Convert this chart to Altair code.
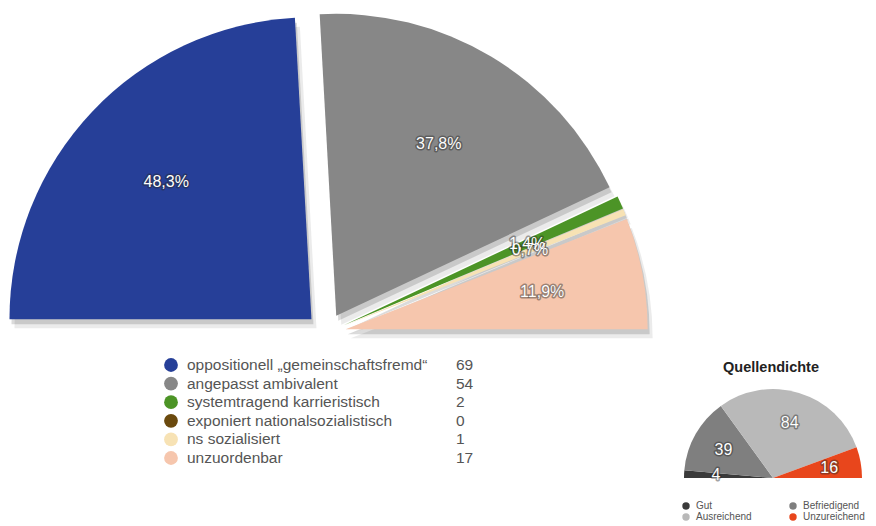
import math
import altair as alt
import pandas as pd

# ---- data ----
categories = ["oppositionell „gemeinschaftsfremd“", "angepasst ambivalent",
              "systemtragend karrieristisch", "exponiert nationalsozialistisch",
              "ns sozialisiert", "unzuordenbar"]
counts = [69, 54, 2, 0, 1, 17]
colors = ["#263f98", "#878787", "#4c9426", "#6b4a0e", "#f7e2b4", "#f6c6ad"]

q_title = ["Quellendichte"]
q_categories = ["Gut", "Befriedigend", "Ausreichend", "Unzureichend"]
q_counts = [4, 39, 84, 16]
q_colors = ["#3a3a3a", "#7f7f7f", "#b9b9b9", "#e8461c"]

main = pd.DataFrame({"cat": categories, "n": counts, "idx": list(range(len(categories)))})
qd = pd.DataFrame({"cat": q_categories, "n": q_counts, "idx": list(range(len(q_categories)))})

FONT = "Liberation Sans"
HALF = math.pi / 2


def pie_base(df, cx, cy, d):
    return (
        alt.Chart(df)
        .transform_joinaggregate(total="sum(n)")
        .transform_window(cum="sum(n)", sort=[alt.SortField("idx")], frame=[None, 0])
        .transform_calculate(mid="-PI/2 + PI*(datum.cum - datum.n/2)/datum.total")
        .transform_calculate(px=f"{cx} + {d}*sin(datum.mid)")
        .transform_calculate(py=f"{cy} - {d}*cos(datum.mid)")
        .transform_calculate(pct="replace(format(datum.n/datum.total*100, '.1f'), '.', ',') + '%'")
    )


def theta_enc():
    return alt.Theta("n:Q", stack=True,
                     scale=alt.Scale(range=[-HALF, HALF], nice=False, zero=True))


px = alt.X("px:Q", scale=None, axis=None)
py = alt.Y("py:Q", scale=None, axis=None)

main_color = alt.Color("cat:N", scale=alt.Scale(domain=categories, range=colors), legend=None)
q_color = alt.Color("cat:N", scale=alt.Scale(domain=q_categories, range=q_colors), legend=None)

# ---- main pie ----
mb = pie_base(main, 326, 333, 20)
shadow1 = mb.mark_arc(radius=302, color="#000000", opacity=0.08, xOffset=5, yOffset=9).encode(
    theta=theta_enc(), order=alt.Order("idx:Q"), detail="cat:N", x=px, y=py)
shadow2 = mb.mark_arc(radius=302, color="#000000", opacity=0.14, xOffset=2, yOffset=5).encode(
    theta=theta_enc(), order=alt.Order("idx:Q"), detail="cat:N", x=px, y=py)
arcs = mb.mark_arc(radius=302).encode(
    theta=theta_enc(), order=alt.Order("idx:Q"), color=main_color, x=px, y=py)
lab_halo = mb.transform_filter("datum.n > 0").mark_text(
    radius=200, font=FONT, fontSize=16, fill="#2a2a2a", stroke="#2a2a2a",
    strokeWidth=3, strokeOpacity=0.55, strokeJoin="round", opacity=0.8).encode(
    theta=theta_enc(), order=alt.Order("idx:Q"), detail="cat:N", x=px, y=py, text="pct:N")
lab = mb.transform_filter("datum.n > 0").mark_text(
    radius=200, font=FONT, fontSize=16, color="white").encode(
    theta=theta_enc(), order=alt.Order("idx:Q"), detail="cat:N", x=px, y=py, text="pct:N")

# ---- main legend ----
y_leg = alt.Y("idx:O", scale=alt.Scale(type="point", range=[365, 458], padding=0), axis=None)
leg_dots = alt.Chart(main).mark_circle(size=190, opacity=1).encode(
    x=alt.value(171), y=y_leg, color=main_color)
leg_text = alt.Chart(main).mark_text(align="left", baseline="middle", font=FONT,
                                     fontSize=15.5, color="#555555").encode(
    x=alt.value(187), y=y_leg, text="cat:N")
leg_vals = alt.Chart(main).mark_text(align="left", baseline="middle", font=FONT,
                                     fontSize=15.5, color="#555555").encode(
    x=alt.value(456), y=y_leg, text="n:Q")

# ---- small pie ----
qb = pie_base(qd, 773, 478, 0)
q_title_layer = alt.Chart(pd.DataFrame({"t": q_title})).mark_text(
    font=FONT, fontSize=14.5, fontWeight="bold", color="#222222").encode(
    x=alt.value(771), y=alt.value(368), text="t:N")
q_arcs = qb.mark_arc(radius=89).encode(
    theta=theta_enc(), order=alt.Order("idx:Q"), color=q_color, x=px, y=py)
q_halo = qb.mark_text(radius=57, font=FONT, fontSize=16, fill="#2a2a2a", stroke="#2a2a2a",
                      strokeWidth=3, strokeOpacity=0.55, strokeJoin="round", opacity=0.8).encode(
    theta=theta_enc(), order=alt.Order("idx:Q"), detail="cat:N", x=px, y=py, text="n:Q")
q_lab = qb.mark_text(radius=57, font=FONT, fontSize=16, color="white").encode(
    theta=theta_enc(), order=alt.Order("idx:Q"), detail="cat:N", x=px, y=py, text="n:Q")

# ---- small legend ----
ql = alt.Chart(qd).transform_calculate(col="datum.idx % 2", row="floor(datum.idx / 2)")
qx = alt.X("col:O", scale=alt.Scale(type="point", range=[686, 793], padding=0), axis=None)
qy = alt.Y("row:O", scale=alt.Scale(type="point", range=[506, 517], padding=0), axis=None)
q_dots = ql.mark_circle(size=55, opacity=1).encode(x=qx, y=qy, color=q_color)
q_text = ql.mark_text(align="left", baseline="middle", dx=10, font=FONT, fontSize=10,
                      color="#555555").encode(x=qx, y=qy, text="cat:N")

main_layers = alt.layer(shadow1, shadow2, arcs, lab_halo, lab, leg_dots, leg_text, leg_vals)
small_layers = alt.layer(q_title_layer, q_arcs, q_halo, q_lab, q_dots, q_text)

chart = (
    alt.layer(main_layers, small_layers)
    .resolve_scale(x="independent", y="independent", color="independent", theta="independent")
    .properties(width=876, height=526, autosize="none", padding=0)
    .configure_view(stroke=None)
)

chart.save("out.html", embed_options={"renderer": "svg", "actions": False})
